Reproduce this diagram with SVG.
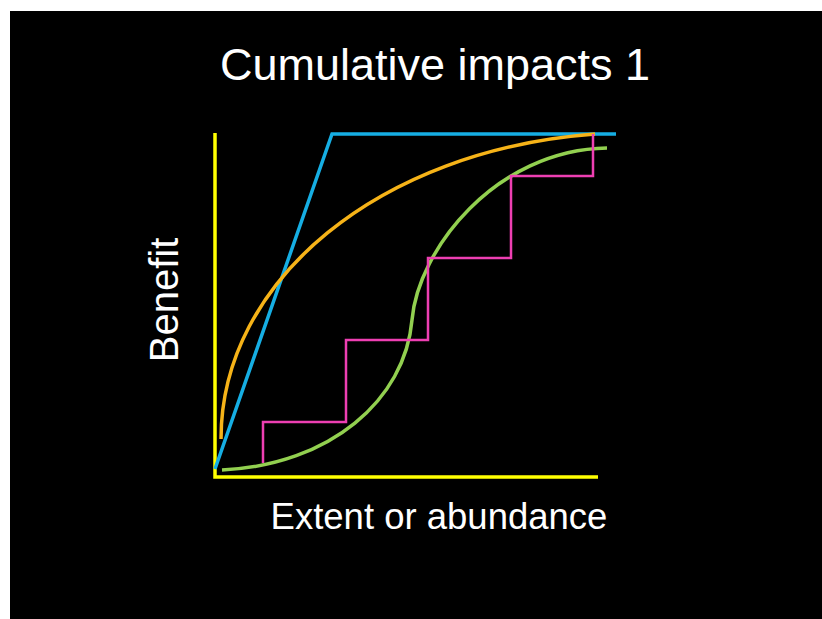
<svg xmlns="http://www.w3.org/2000/svg" width="822" height="619" viewBox="0 0 822 619">
<style>
.t{fill:#fff;font-family:"Liberation Sans",Arial,sans-serif}
.c{fill:none;stroke-linejoin:miter}
</style>
<rect x="0" y="0" width="822" height="619" fill="#fff"/>
<rect x="10" y="11" width="812" height="608" fill="#000"/>
<text class="t" x="435" y="80" font-size="45" text-anchor="middle">Cumulative impacts 1</text>
<text class="t" x="439" y="529" font-size="36.5" text-anchor="middle">Extent or abundance</text>
<text class="t" transform="translate(178,300) rotate(-90)" font-size="40" text-anchor="middle">Benefit</text>
<g id="axes">
<path class="c" d="M215,133 V477 H598" stroke="#ffff00" stroke-width="3.5"/>
</g>
<g id="curves">
<path id="blue" class="c" d="M215,469 L332,134 H616" stroke="#16aee3" stroke-width="3.5"/>
<path id="orange" class="c" d="M221,439 C221,280 380,150 595,134" stroke="#f6b318" stroke-width="3.5"/>
<path id="green" class="c" d="M222,470 C330,465 405,400 412,320 C418,250 495,150 607,148" stroke="#92d050" stroke-width="3.5"/>
<path id="pink" class="c" d="M263,463 V422 H346 V340 H428 V258 H511 V176 H593 V134" stroke="#ee3fb2" stroke-width="2.5"/>
</g>
</svg>
